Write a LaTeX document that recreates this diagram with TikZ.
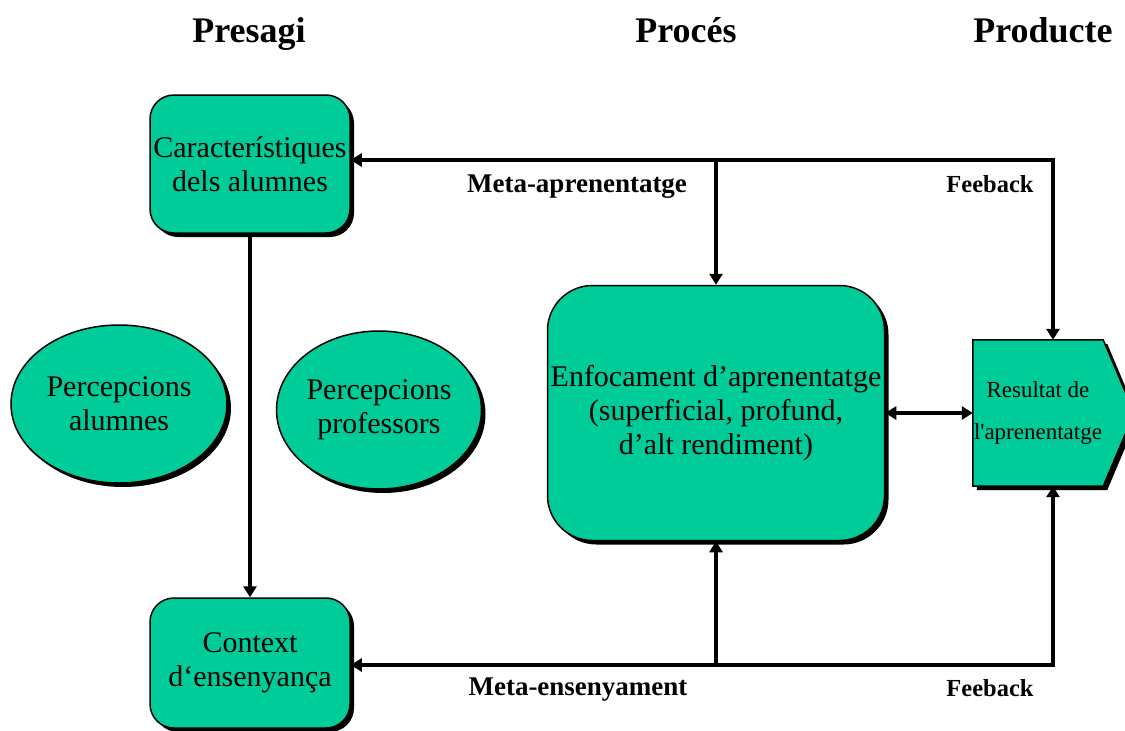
\documentclass[tikz,border=0pt]{standalone}
\usepackage{fontspec}
\setmainfont{Liberation Serif}
\usetikzlibrary{arrows.meta,shadows,shapes.geometric,backgrounds}
\definecolor{boxgreen}{RGB}{0,204,153}

\tikzset{
  shade black/.style={drop shadow={shadow xshift=4pt, shadow yshift=-4pt, fill=black, opacity=1}},
  greenbox/.style={draw=black, line width=1.5pt, fill=boxgreen, rounded corners=24pt,
    align=center, inner sep=0pt, shade black, font=\fontsize{30}{34}\selectfont},
  greenoval/.style={ellipse, draw=black, line width=1.5pt, fill=boxgreen, align=center,
    inner sep=0pt, shade black, font=\fontsize{30}{34}\selectfont},
  tip/.tip={Triangle[length=11pt,width=13pt]},
  arr/.style={line width=4.5pt, -tip},
  dblarr/.style={line width=4.5pt, tip-tip},
  heading/.style={anchor=base, font=\fontsize{36}{40}\selectfont\bfseries},
  flowlabel/.style={font=\fontsize{27}{30}\selectfont\bfseries},
  fblabel/.style={font=\fontsize{24.5}{28}\selectfont\bfseries},
}

\begin{document}
\begin{tikzpicture}[x=1pt,y=-1pt]
\useasboundingbox (0,0) rectangle (1125,731);
\clip (0,0) rectangle (1125,731);

% column headings (on a common baseline)
\node[heading] (h1) at (249,42) {Presagi};
\node[heading] (h2) at (686,42) {Procés};
\node[heading] (h3) at (1043,42) {Producte};

% presage factors
\node[greenbox, minimum width=200pt, minimum height=138pt] (A) at (250,164)
  {Característiques\\dels alumnes};
\node[greenbox, minimum width=200pt, minimum height=130pt] (B) at (250,663)
  {Context\\d‘ensenyança};
\node[greenoval, minimum width=216pt, minimum height=158pt] (E1) at (119,404)
  {Percepcions\\alumnes};
\node[greenoval, minimum width=205pt, minimum height=158pt] (E2) at (379,410)
  {Percepcions\\professors};

% process
\node[greenbox, rounded corners=45pt, minimum width=337pt, minimum height=255pt] (C) at (716,413)
  {Enfocament d’aprenentatge\\(superficial, profund,\\d’alt rendiment)};

% product (arrow-shaped box)
\node[inner sep=0pt, minimum width=130pt, minimum height=146pt, align=center,
      font=\fontsize{23}{42}\selectfont] (D) at (1038,413)
  {Resultat de\\l\textquotesingle aprenentatge};
\begin{scope}[on background layer]
  \filldraw[fill=boxgreen, draw=black, line width=1.5pt, shade black]
    (D.north west) -- (D.north east) -- ([xshift=31pt]D.east)
    -- (D.south east) -- (D.south west) -- cycle;
\end{scope}

% junction points of the feedback loops
\coordinate (tr) at (1053,160);
\coordinate (tm) at (716,160);
\coordinate (br) at (1053,665);
\coordinate (bm) at (716,665);

% connectors
\draw[arr] (A.south) -- (B.north);
\draw[dblarr] (tr -| A.east) -- (tr) -- (tr |- D.north);
\draw[arr] (tm) -- (C.north);
\draw[dblarr] (br -| B.east) -- (br) -- (br |- D.south);
\draw[arr] (bm) -- (C.south);
\draw[dblarr] (C.east) -- (D.west);

% connector labels
\node[flowlabel] (l1) at (577,187) {Meta-aprenentatge};
\node[flowlabel] (l2) at (578,690) {Meta-ensenyament};
\node[fblabel] (l3) at (990,184) {Feeback};
\node[fblabel] (l4) at (990,688) {Feeback};
\end{tikzpicture}
\end{document}
